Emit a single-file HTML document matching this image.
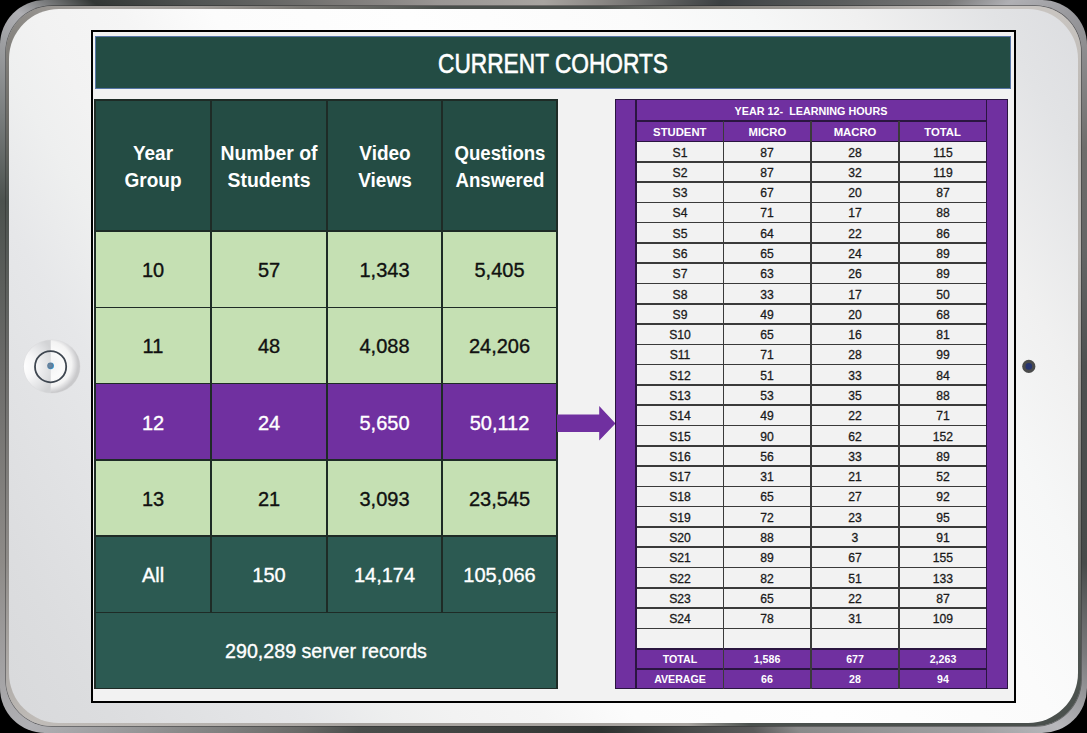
<!DOCTYPE html>
<html><head><meta charset="utf-8"><style>
html,body{margin:0;padding:0;}
body{width:1087px;height:733px;overflow:hidden;background:#000;position:relative;font-family:"Liberation Sans", sans-serif;}
.c{position:absolute;}
.t{position:absolute;text-align:center;white-space:nowrap;transform-origin:50% 50%;}
#slide{position:absolute;left:91px;top:30px;width:921px;height:669px;border:2px solid #000;background:#f2f2f2;}
#title{position:absolute;left:95px;top:35.6px;width:914px;height:51.9px;border:1px solid #5575a5;background:#234c44;}
</style></head><body>

<div id="rim" style="position:absolute;left:0;top:0;width:1087px;height:733px;border-radius:45px;background:conic-gradient(from 0deg at 543.5px 366.5px,#a8a4a0 0deg,#8a8784 9deg,#3c4042 26deg,#5a5c5c 39deg,#787878 48deg,#b0b0b4 52deg,#9a9a9e 56deg,#6e6d6b 68deg,#646565 78deg,#4e5050 90deg,#484b4a 110deg,#7a7a7c 118deg,#b8b8bc 125deg,#a0a0a2 130deg,#8a8a8a 145deg,#5a5a5a 150deg,#2e3230 171deg,#3a3d3b 184deg,#4a4d4b 207deg,#6a6a68 214deg,#8a8a8a 225deg,#b0b0b4 235deg,#8e8b88 250deg,#6b6b69 270deg,#4c524e 287deg,#7a7e7e 295deg,#b0b0b4 304deg,#333735 309deg,#505352 316deg,#7a7876 330deg,#9a9694 344deg,#a8a4a0 360deg);"></div>
<div id="rim2" style="position:absolute;left:6px;top:6px;width:1075px;height:720px;border-radius:46px;background:conic-gradient(from 0deg at 537.5px 360px,#4a4f4c 0deg,#4a4f4c 9deg,#8a8680 26deg,#a09c98 39deg,#c8c4c0 50deg,#c8c4c0 56deg,#b8b4b0 68deg,#b8b4b0 78deg,#a09c98 90deg,#6a6b67 110deg,#4e5450 118deg,#4a504d 125deg,#4a504d 150deg,#a8a4a0 158deg,#a8a4a0 207deg,#c0bcb8 235deg,#8e8b88 250deg,#6b6b69 270deg,#4c524e 287deg,#6e6d68 295deg,#8f8c88 304deg,#aaa6a2 309deg,#a09c98 316deg,#7a7874 326deg,#4a4f4c 344deg,#4a4f4c 360deg);box-shadow:0 0 0 0.7px rgba(40,40,40,.6);"></div>
<div id="bezel" style="position:absolute;left:9px;top:9px;width:1069px;height:714px;border-radius:50px;background:linear-gradient(59deg,#d8d9db 0%,#dcdddf 7%,#e6e7e9 20%,#eeefef 26%,#f2f2f2 30%,#f5f5f5 36%,#fcfcfc 42%,#fefefe 55%,#fbfbfb 70%,#f6f7f7 78%,#f0f0f0 85%,#e2e3e5 94%,#dcdde0 100%);"></div>
<svg class="c" style="left:0;top:0" width="1087" height="733">
 <defs>
  <radialGradient id="hbL" gradientUnits="userSpaceOnUse" cx="22" cy="366.5" r="34"><stop offset="0" stop-color="#ffffff"/><stop offset="0.4" stop-color="#f6f6f7"/><stop offset="0.8" stop-color="#dfe0e2"/><stop offset="1" stop-color="#d2d3d5"/></radialGradient>
  <radialGradient id="hbR" gradientUnits="userSpaceOnUse" cx="49" cy="364" r="29"><stop offset="0" stop-color="#f1f1f2"/><stop offset="0.5" stop-color="#fbfbfb"/><stop offset="0.78" stop-color="#f3f3f3"/><stop offset="0.9" stop-color="#dcdcde"/><stop offset="1" stop-color="#c9c9cb"/></radialGradient>
  <clipPath id="cL"><rect x="0" y="300" width="50.8" height="140"/></clipPath>
  <clipPath id="cR"><rect x="50.8" y="300" width="60" height="140"/></clipPath>
  <radialGradient id="dot" cx="0.4" cy="0.45" r="0.6"><stop offset="0" stop-color="#7088a0"/><stop offset="0.7" stop-color="#5a7c9c"/><stop offset="1" stop-color="#2aa0e0"/></radialGradient>
 </defs>
 <ellipse cx="51.9" cy="366.5" rx="28.6" ry="27.1" fill="#d8d9db" opacity="0.6"/>
 <ellipse cx="51.9" cy="366.5" rx="28.1" ry="26.6" fill="url(#hbL)" clip-path="url(#cL)"/>
 <ellipse cx="51.9" cy="366.5" rx="28.1" ry="26.6" fill="url(#hbR)" clip-path="url(#cR)"/>
 <circle cx="50.6" cy="366.7" r="15.6" fill="none" stroke="#3e4650" stroke-width="1.8"/>
 <circle cx="50.6" cy="365.8" r="3.4" fill="url(#dot)"/>
 <circle cx="1028.8" cy="366.4" r="6.6" fill="#4a4b4b"/>
 <circle cx="1028.8" cy="366.4" r="3.3" fill="#263470"/>
</svg>

<div id="slide"></div>
<div id="title"></div>
<div class="t" style="left:353.00px;top:48.16px;width:400px;font-size:27.5px;line-height:31.62px;font-weight:normal;color:#fff;transform:scaleX(0.825);-webkit-text-stroke:0.6px #fff;">CURRENT COHORTS</div>
<div class="c" style="left:95px;top:100.0px;width:462.00px;height:131.00px;background:#244c44;"></div>
<div class="c" style="left:95px;top:231px;width:462.00px;height:76.60px;background:#c5e0b3;"></div>
<div class="c" style="left:95px;top:307.6px;width:462.00px;height:76.10px;background:#c5e0b3;"></div>
<div class="c" style="left:95px;top:383.7px;width:462.00px;height:76.10px;background:#7030a0;"></div>
<div class="c" style="left:95px;top:459.8px;width:462.00px;height:76.20px;background:#c5e0b3;"></div>
<div class="c" style="left:95px;top:536px;width:462.00px;height:76.50px;background:#2c5a52;"></div>
<div class="c" style="left:95px;top:612.5px;width:462.00px;height:76.00px;background:#2c5a52;"></div>
<div class="c" style="left:94.2px;top:99.20px;width:463.6px;height:1.6px;background:#1e2b26"></div>
<div class="c" style="left:94.2px;top:230.20px;width:463.6px;height:1.6px;background:#1e2b26"></div>
<div class="c" style="left:94.2px;top:306.80px;width:463.6px;height:1.6px;background:#1e2b26"></div>
<div class="c" style="left:94.2px;top:382.90px;width:463.6px;height:1.6px;background:#1e2b26"></div>
<div class="c" style="left:94.2px;top:459.00px;width:463.6px;height:1.6px;background:#1e2b26"></div>
<div class="c" style="left:94.2px;top:535.20px;width:463.6px;height:1.6px;background:#1e2b26"></div>
<div class="c" style="left:94.2px;top:611.70px;width:463.6px;height:1.6px;background:#1e2b26"></div>
<div class="c" style="left:94.2px;top:687.70px;width:463.6px;height:1.6px;background:#1e2b26"></div>
<div class="c" style="left:94.20px;top:99.2px;width:1.6px;height:590.1px;background:#1e2b26"></div>
<div class="c" style="left:210.20px;top:99.2px;width:1.6px;height:514.1px;background:#1e2b26"></div>
<div class="c" style="left:326.20px;top:99.2px;width:1.6px;height:514.1px;background:#1e2b26"></div>
<div class="c" style="left:441.20px;top:99.2px;width:1.6px;height:514.1px;background:#1e2b26"></div>
<div class="c" style="left:556.20px;top:99.2px;width:1.6px;height:590.1px;background:#1e2b26"></div>
<div class="t" style="left:-47.00px;top:141.57px;width:400px;font-size:20px;line-height:23.00px;font-weight:bold;color:#fff;transform:scaleX(0.95);">Year</div>
<div class="t" style="left:-47.00px;top:169.47px;width:400px;font-size:20px;line-height:23.00px;font-weight:bold;color:#fff;transform:scaleX(0.95);">Group</div>
<div class="t" style="left:69.00px;top:141.57px;width:400px;font-size:20px;line-height:23.00px;font-weight:bold;color:#fff;transform:scaleX(0.97);">Number of</div>
<div class="t" style="left:69.00px;top:169.47px;width:400px;font-size:20px;line-height:23.00px;font-weight:bold;color:#fff;transform:scaleX(0.97);">Students</div>
<div class="t" style="left:184.50px;top:141.57px;width:400px;font-size:20px;line-height:23.00px;font-weight:bold;color:#fff;transform:scaleX(0.95);">Video</div>
<div class="t" style="left:184.50px;top:169.47px;width:400px;font-size:20px;line-height:23.00px;font-weight:bold;color:#fff;transform:scaleX(0.95);">Views</div>
<div class="t" style="left:299.50px;top:141.57px;width:400px;font-size:20px;line-height:23.00px;font-weight:bold;color:#fff;transform:scaleX(0.93);">Questions</div>
<div class="t" style="left:299.50px;top:169.47px;width:400px;font-size:20px;line-height:23.00px;font-weight:bold;color:#fff;transform:scaleX(0.93);">Answered</div>
<div class="t" style="left:-47.00px;top:259.07px;width:400px;font-size:20px;line-height:23.00px;font-weight:normal;color:#111;transform:scaleX(1.0);-webkit-text-stroke:0.35px #111;">10</div>
<div class="t" style="left:69.00px;top:259.07px;width:400px;font-size:20px;line-height:23.00px;font-weight:normal;color:#111;transform:scaleX(1.0);-webkit-text-stroke:0.35px #111;">57</div>
<div class="t" style="left:184.50px;top:259.07px;width:400px;font-size:20px;line-height:23.00px;font-weight:normal;color:#111;transform:scaleX(1.0);-webkit-text-stroke:0.35px #111;">1,343</div>
<div class="t" style="left:299.50px;top:259.07px;width:400px;font-size:20px;line-height:23.00px;font-weight:normal;color:#111;transform:scaleX(1.0);-webkit-text-stroke:0.35px #111;">5,405</div>
<div class="t" style="left:-47.00px;top:335.42px;width:400px;font-size:20px;line-height:23.00px;font-weight:normal;color:#111;transform:scaleX(1.0);-webkit-text-stroke:0.35px #111;">11</div>
<div class="t" style="left:69.00px;top:335.42px;width:400px;font-size:20px;line-height:23.00px;font-weight:normal;color:#111;transform:scaleX(1.0);-webkit-text-stroke:0.35px #111;">48</div>
<div class="t" style="left:184.50px;top:335.42px;width:400px;font-size:20px;line-height:23.00px;font-weight:normal;color:#111;transform:scaleX(1.0);-webkit-text-stroke:0.35px #111;">4,088</div>
<div class="t" style="left:299.50px;top:335.42px;width:400px;font-size:20px;line-height:23.00px;font-weight:normal;color:#111;transform:scaleX(1.0);-webkit-text-stroke:0.35px #111;">24,206</div>
<div class="t" style="left:-47.00px;top:411.52px;width:400px;font-size:20px;line-height:23.00px;font-weight:normal;color:#fff;transform:scaleX(1.0);-webkit-text-stroke:0.35px #fff;">12</div>
<div class="t" style="left:69.00px;top:411.52px;width:400px;font-size:20px;line-height:23.00px;font-weight:normal;color:#fff;transform:scaleX(1.0);-webkit-text-stroke:0.35px #fff;">24</div>
<div class="t" style="left:184.50px;top:411.52px;width:400px;font-size:20px;line-height:23.00px;font-weight:normal;color:#fff;transform:scaleX(1.0);-webkit-text-stroke:0.35px #fff;">5,650</div>
<div class="t" style="left:299.50px;top:411.52px;width:400px;font-size:20px;line-height:23.00px;font-weight:normal;color:#fff;transform:scaleX(1.0);-webkit-text-stroke:0.35px #fff;">50,112</div>
<div class="t" style="left:-47.00px;top:487.67px;width:400px;font-size:20px;line-height:23.00px;font-weight:normal;color:#111;transform:scaleX(1.0);-webkit-text-stroke:0.35px #111;">13</div>
<div class="t" style="left:69.00px;top:487.67px;width:400px;font-size:20px;line-height:23.00px;font-weight:normal;color:#111;transform:scaleX(1.0);-webkit-text-stroke:0.35px #111;">21</div>
<div class="t" style="left:184.50px;top:487.67px;width:400px;font-size:20px;line-height:23.00px;font-weight:normal;color:#111;transform:scaleX(1.0);-webkit-text-stroke:0.35px #111;">3,093</div>
<div class="t" style="left:299.50px;top:487.67px;width:400px;font-size:20px;line-height:23.00px;font-weight:normal;color:#111;transform:scaleX(1.0);-webkit-text-stroke:0.35px #111;">23,545</div>
<div class="t" style="left:-47.00px;top:564.02px;width:400px;font-size:20px;line-height:23.00px;font-weight:normal;color:#fff;transform:scaleX(1.0);-webkit-text-stroke:0.35px #fff;">All</div>
<div class="t" style="left:69.00px;top:564.02px;width:400px;font-size:20px;line-height:23.00px;font-weight:normal;color:#fff;transform:scaleX(1.0);-webkit-text-stroke:0.35px #fff;">150</div>
<div class="t" style="left:184.50px;top:564.02px;width:400px;font-size:20px;line-height:23.00px;font-weight:normal;color:#fff;transform:scaleX(1.0);-webkit-text-stroke:0.35px #fff;">14,174</div>
<div class="t" style="left:299.50px;top:564.02px;width:400px;font-size:20px;line-height:23.00px;font-weight:normal;color:#fff;transform:scaleX(1.0);-webkit-text-stroke:0.35px #fff;">105,066</div>
<div class="t" style="left:126.00px;top:640.09px;width:400px;font-size:20.2px;line-height:23.23px;font-weight:normal;color:#fff;transform:scaleX(0.972);-webkit-text-stroke:0.35px #fff;">290,289 server records</div>
<svg class="c" style="left:0;top:0" width="1087" height="733"><polygon points="557,414.4 599.2,414.4 599.2,406 615.5,423.4 599.2,440.6 599.2,432 557,432" fill="#7030a0"/></svg>
<div class="c" style="left:615px;top:99.2px;width:393.00px;height:590.10px;background:#7030a0;box-shadow:0 0 0 1px #2a1540 inset;"></div>
<div class="c" style="left:636px;top:141.48000000000002px;width:350.40px;height:507.25px;background:#f2f2f2;"></div>
<div class="c" style="left:636px;top:120.39px;width:350.40px;height:1.6px;background:#2a1540"></div>
<div class="c" style="left:636px;top:140.68px;width:350.40px;height:1.6px;background:#2a1540"></div>
<div class="c" style="left:636px;top:160.97px;width:350.40px;height:1.6px;background:#3a3a3a"></div>
<div class="c" style="left:636px;top:181.26px;width:350.40px;height:1.6px;background:#3a3a3a"></div>
<div class="c" style="left:636px;top:201.55px;width:350.40px;height:1.6px;background:#3a3a3a"></div>
<div class="c" style="left:636px;top:221.84px;width:350.40px;height:1.6px;background:#3a3a3a"></div>
<div class="c" style="left:636px;top:242.13px;width:350.40px;height:1.6px;background:#3a3a3a"></div>
<div class="c" style="left:636px;top:262.42px;width:350.40px;height:1.6px;background:#3a3a3a"></div>
<div class="c" style="left:636px;top:282.71px;width:350.40px;height:1.6px;background:#3a3a3a"></div>
<div class="c" style="left:636px;top:303.00px;width:350.40px;height:1.6px;background:#3a3a3a"></div>
<div class="c" style="left:636px;top:323.29px;width:350.40px;height:1.6px;background:#3a3a3a"></div>
<div class="c" style="left:636px;top:343.58px;width:350.40px;height:1.6px;background:#3a3a3a"></div>
<div class="c" style="left:636px;top:363.87px;width:350.40px;height:1.6px;background:#3a3a3a"></div>
<div class="c" style="left:636px;top:384.16px;width:350.40px;height:1.6px;background:#3a3a3a"></div>
<div class="c" style="left:636px;top:404.45px;width:350.40px;height:1.6px;background:#3a3a3a"></div>
<div class="c" style="left:636px;top:424.74px;width:350.40px;height:1.6px;background:#3a3a3a"></div>
<div class="c" style="left:636px;top:445.03px;width:350.40px;height:1.6px;background:#3a3a3a"></div>
<div class="c" style="left:636px;top:465.32px;width:350.40px;height:1.6px;background:#3a3a3a"></div>
<div class="c" style="left:636px;top:485.61px;width:350.40px;height:1.6px;background:#3a3a3a"></div>
<div class="c" style="left:636px;top:505.90px;width:350.40px;height:1.6px;background:#3a3a3a"></div>
<div class="c" style="left:636px;top:526.19px;width:350.40px;height:1.6px;background:#3a3a3a"></div>
<div class="c" style="left:636px;top:546.48px;width:350.40px;height:1.6px;background:#3a3a3a"></div>
<div class="c" style="left:636px;top:566.77px;width:350.40px;height:1.6px;background:#3a3a3a"></div>
<div class="c" style="left:636px;top:587.06px;width:350.40px;height:1.6px;background:#3a3a3a"></div>
<div class="c" style="left:636px;top:607.35px;width:350.40px;height:1.6px;background:#3a3a3a"></div>
<div class="c" style="left:636px;top:627.64px;width:350.40px;height:1.6px;background:#3a3a3a"></div>
<div class="c" style="left:636px;top:647.93px;width:350.40px;height:1.6px;background:#2a1540"></div>
<div class="c" style="left:636px;top:668.22px;width:350.40px;height:1.6px;background:#2a1540"></div>
<div class="c" style="left:635.20px;top:99.20px;width:1.6px;height:590.10px;background:#2a1540"></div>
<div class="c" style="left:722.80px;top:121.19px;width:1.6px;height:568.11px;background:#3a3a3a"></div>
<div class="c" style="left:810.40px;top:121.19px;width:1.6px;height:568.11px;background:#3a3a3a"></div>
<div class="c" style="left:898.00px;top:121.19px;width:1.6px;height:568.11px;background:#3a3a3a"></div>
<div class="c" style="left:985.60px;top:99.20px;width:1.6px;height:590.10px;background:#2a1540"></div>
<div class="t" style="left:611.20px;top:104.11px;width:400px;font-size:11.6px;line-height:13.34px;font-weight:bold;color:#fff;transform:scaleX(0.93);">YEAR 12-&nbsp; LEARNING HOURS</div>
<div class="t" style="left:479.80px;top:125.62px;width:400px;font-size:11.3px;line-height:12.99px;font-weight:bold;color:#fff;transform:scaleX(1.0);">STUDENT</div>
<div class="t" style="left:567.40px;top:125.62px;width:400px;font-size:11.3px;line-height:12.99px;font-weight:bold;color:#fff;transform:scaleX(1.0);">MICRO</div>
<div class="t" style="left:655.00px;top:125.62px;width:400px;font-size:11.3px;line-height:12.99px;font-weight:bold;color:#fff;transform:scaleX(1.0);">MACRO</div>
<div class="t" style="left:742.60px;top:125.62px;width:400px;font-size:11.3px;line-height:12.99px;font-weight:bold;color:#fff;transform:scaleX(1.0);">TOTAL</div>
<div class="t" style="left:479.80px;top:145.51px;width:400px;font-size:12.6px;line-height:14.49px;font-weight:normal;color:#1a1a1a;transform:scaleX(0.965);-webkit-text-stroke:0.3px #1a1a1a;">S1</div>
<div class="t" style="left:567.40px;top:145.51px;width:400px;font-size:12.6px;line-height:14.49px;font-weight:normal;color:#1a1a1a;transform:scaleX(0.965);-webkit-text-stroke:0.3px #1a1a1a;">87</div>
<div class="t" style="left:655.00px;top:145.51px;width:400px;font-size:12.6px;line-height:14.49px;font-weight:normal;color:#1a1a1a;transform:scaleX(0.965);-webkit-text-stroke:0.3px #1a1a1a;">28</div>
<div class="t" style="left:742.60px;top:145.51px;width:400px;font-size:12.6px;line-height:14.49px;font-weight:normal;color:#1a1a1a;transform:scaleX(0.965);-webkit-text-stroke:0.3px #1a1a1a;">115</div>
<div class="t" style="left:479.80px;top:165.80px;width:400px;font-size:12.6px;line-height:14.49px;font-weight:normal;color:#1a1a1a;transform:scaleX(0.965);-webkit-text-stroke:0.3px #1a1a1a;">S2</div>
<div class="t" style="left:567.40px;top:165.80px;width:400px;font-size:12.6px;line-height:14.49px;font-weight:normal;color:#1a1a1a;transform:scaleX(0.965);-webkit-text-stroke:0.3px #1a1a1a;">87</div>
<div class="t" style="left:655.00px;top:165.80px;width:400px;font-size:12.6px;line-height:14.49px;font-weight:normal;color:#1a1a1a;transform:scaleX(0.965);-webkit-text-stroke:0.3px #1a1a1a;">32</div>
<div class="t" style="left:742.60px;top:165.80px;width:400px;font-size:12.6px;line-height:14.49px;font-weight:normal;color:#1a1a1a;transform:scaleX(0.965);-webkit-text-stroke:0.3px #1a1a1a;">119</div>
<div class="t" style="left:479.80px;top:186.09px;width:400px;font-size:12.6px;line-height:14.49px;font-weight:normal;color:#1a1a1a;transform:scaleX(0.965);-webkit-text-stroke:0.3px #1a1a1a;">S3</div>
<div class="t" style="left:567.40px;top:186.09px;width:400px;font-size:12.6px;line-height:14.49px;font-weight:normal;color:#1a1a1a;transform:scaleX(0.965);-webkit-text-stroke:0.3px #1a1a1a;">67</div>
<div class="t" style="left:655.00px;top:186.09px;width:400px;font-size:12.6px;line-height:14.49px;font-weight:normal;color:#1a1a1a;transform:scaleX(0.965);-webkit-text-stroke:0.3px #1a1a1a;">20</div>
<div class="t" style="left:742.60px;top:186.09px;width:400px;font-size:12.6px;line-height:14.49px;font-weight:normal;color:#1a1a1a;transform:scaleX(0.965);-webkit-text-stroke:0.3px #1a1a1a;">87</div>
<div class="t" style="left:479.80px;top:206.38px;width:400px;font-size:12.6px;line-height:14.49px;font-weight:normal;color:#1a1a1a;transform:scaleX(0.965);-webkit-text-stroke:0.3px #1a1a1a;">S4</div>
<div class="t" style="left:567.40px;top:206.38px;width:400px;font-size:12.6px;line-height:14.49px;font-weight:normal;color:#1a1a1a;transform:scaleX(0.965);-webkit-text-stroke:0.3px #1a1a1a;">71</div>
<div class="t" style="left:655.00px;top:206.38px;width:400px;font-size:12.6px;line-height:14.49px;font-weight:normal;color:#1a1a1a;transform:scaleX(0.965);-webkit-text-stroke:0.3px #1a1a1a;">17</div>
<div class="t" style="left:742.60px;top:206.38px;width:400px;font-size:12.6px;line-height:14.49px;font-weight:normal;color:#1a1a1a;transform:scaleX(0.965);-webkit-text-stroke:0.3px #1a1a1a;">88</div>
<div class="t" style="left:479.80px;top:226.67px;width:400px;font-size:12.6px;line-height:14.49px;font-weight:normal;color:#1a1a1a;transform:scaleX(0.965);-webkit-text-stroke:0.3px #1a1a1a;">S5</div>
<div class="t" style="left:567.40px;top:226.67px;width:400px;font-size:12.6px;line-height:14.49px;font-weight:normal;color:#1a1a1a;transform:scaleX(0.965);-webkit-text-stroke:0.3px #1a1a1a;">64</div>
<div class="t" style="left:655.00px;top:226.67px;width:400px;font-size:12.6px;line-height:14.49px;font-weight:normal;color:#1a1a1a;transform:scaleX(0.965);-webkit-text-stroke:0.3px #1a1a1a;">22</div>
<div class="t" style="left:742.60px;top:226.67px;width:400px;font-size:12.6px;line-height:14.49px;font-weight:normal;color:#1a1a1a;transform:scaleX(0.965);-webkit-text-stroke:0.3px #1a1a1a;">86</div>
<div class="t" style="left:479.80px;top:246.96px;width:400px;font-size:12.6px;line-height:14.49px;font-weight:normal;color:#1a1a1a;transform:scaleX(0.965);-webkit-text-stroke:0.3px #1a1a1a;">S6</div>
<div class="t" style="left:567.40px;top:246.96px;width:400px;font-size:12.6px;line-height:14.49px;font-weight:normal;color:#1a1a1a;transform:scaleX(0.965);-webkit-text-stroke:0.3px #1a1a1a;">65</div>
<div class="t" style="left:655.00px;top:246.96px;width:400px;font-size:12.6px;line-height:14.49px;font-weight:normal;color:#1a1a1a;transform:scaleX(0.965);-webkit-text-stroke:0.3px #1a1a1a;">24</div>
<div class="t" style="left:742.60px;top:246.96px;width:400px;font-size:12.6px;line-height:14.49px;font-weight:normal;color:#1a1a1a;transform:scaleX(0.965);-webkit-text-stroke:0.3px #1a1a1a;">89</div>
<div class="t" style="left:479.80px;top:267.25px;width:400px;font-size:12.6px;line-height:14.49px;font-weight:normal;color:#1a1a1a;transform:scaleX(0.965);-webkit-text-stroke:0.3px #1a1a1a;">S7</div>
<div class="t" style="left:567.40px;top:267.25px;width:400px;font-size:12.6px;line-height:14.49px;font-weight:normal;color:#1a1a1a;transform:scaleX(0.965);-webkit-text-stroke:0.3px #1a1a1a;">63</div>
<div class="t" style="left:655.00px;top:267.25px;width:400px;font-size:12.6px;line-height:14.49px;font-weight:normal;color:#1a1a1a;transform:scaleX(0.965);-webkit-text-stroke:0.3px #1a1a1a;">26</div>
<div class="t" style="left:742.60px;top:267.25px;width:400px;font-size:12.6px;line-height:14.49px;font-weight:normal;color:#1a1a1a;transform:scaleX(0.965);-webkit-text-stroke:0.3px #1a1a1a;">89</div>
<div class="t" style="left:479.80px;top:287.54px;width:400px;font-size:12.6px;line-height:14.49px;font-weight:normal;color:#1a1a1a;transform:scaleX(0.965);-webkit-text-stroke:0.3px #1a1a1a;">S8</div>
<div class="t" style="left:567.40px;top:287.54px;width:400px;font-size:12.6px;line-height:14.49px;font-weight:normal;color:#1a1a1a;transform:scaleX(0.965);-webkit-text-stroke:0.3px #1a1a1a;">33</div>
<div class="t" style="left:655.00px;top:287.54px;width:400px;font-size:12.6px;line-height:14.49px;font-weight:normal;color:#1a1a1a;transform:scaleX(0.965);-webkit-text-stroke:0.3px #1a1a1a;">17</div>
<div class="t" style="left:742.60px;top:287.54px;width:400px;font-size:12.6px;line-height:14.49px;font-weight:normal;color:#1a1a1a;transform:scaleX(0.965);-webkit-text-stroke:0.3px #1a1a1a;">50</div>
<div class="t" style="left:479.80px;top:307.83px;width:400px;font-size:12.6px;line-height:14.49px;font-weight:normal;color:#1a1a1a;transform:scaleX(0.965);-webkit-text-stroke:0.3px #1a1a1a;">S9</div>
<div class="t" style="left:567.40px;top:307.83px;width:400px;font-size:12.6px;line-height:14.49px;font-weight:normal;color:#1a1a1a;transform:scaleX(0.965);-webkit-text-stroke:0.3px #1a1a1a;">49</div>
<div class="t" style="left:655.00px;top:307.83px;width:400px;font-size:12.6px;line-height:14.49px;font-weight:normal;color:#1a1a1a;transform:scaleX(0.965);-webkit-text-stroke:0.3px #1a1a1a;">20</div>
<div class="t" style="left:742.60px;top:307.83px;width:400px;font-size:12.6px;line-height:14.49px;font-weight:normal;color:#1a1a1a;transform:scaleX(0.965);-webkit-text-stroke:0.3px #1a1a1a;">68</div>
<div class="t" style="left:479.80px;top:328.12px;width:400px;font-size:12.6px;line-height:14.49px;font-weight:normal;color:#1a1a1a;transform:scaleX(0.965);-webkit-text-stroke:0.3px #1a1a1a;">S10</div>
<div class="t" style="left:567.40px;top:328.12px;width:400px;font-size:12.6px;line-height:14.49px;font-weight:normal;color:#1a1a1a;transform:scaleX(0.965);-webkit-text-stroke:0.3px #1a1a1a;">65</div>
<div class="t" style="left:655.00px;top:328.12px;width:400px;font-size:12.6px;line-height:14.49px;font-weight:normal;color:#1a1a1a;transform:scaleX(0.965);-webkit-text-stroke:0.3px #1a1a1a;">16</div>
<div class="t" style="left:742.60px;top:328.12px;width:400px;font-size:12.6px;line-height:14.49px;font-weight:normal;color:#1a1a1a;transform:scaleX(0.965);-webkit-text-stroke:0.3px #1a1a1a;">81</div>
<div class="t" style="left:479.80px;top:348.41px;width:400px;font-size:12.6px;line-height:14.49px;font-weight:normal;color:#1a1a1a;transform:scaleX(0.965);-webkit-text-stroke:0.3px #1a1a1a;">S11</div>
<div class="t" style="left:567.40px;top:348.41px;width:400px;font-size:12.6px;line-height:14.49px;font-weight:normal;color:#1a1a1a;transform:scaleX(0.965);-webkit-text-stroke:0.3px #1a1a1a;">71</div>
<div class="t" style="left:655.00px;top:348.41px;width:400px;font-size:12.6px;line-height:14.49px;font-weight:normal;color:#1a1a1a;transform:scaleX(0.965);-webkit-text-stroke:0.3px #1a1a1a;">28</div>
<div class="t" style="left:742.60px;top:348.41px;width:400px;font-size:12.6px;line-height:14.49px;font-weight:normal;color:#1a1a1a;transform:scaleX(0.965);-webkit-text-stroke:0.3px #1a1a1a;">99</div>
<div class="t" style="left:479.80px;top:368.70px;width:400px;font-size:12.6px;line-height:14.49px;font-weight:normal;color:#1a1a1a;transform:scaleX(0.965);-webkit-text-stroke:0.3px #1a1a1a;">S12</div>
<div class="t" style="left:567.40px;top:368.70px;width:400px;font-size:12.6px;line-height:14.49px;font-weight:normal;color:#1a1a1a;transform:scaleX(0.965);-webkit-text-stroke:0.3px #1a1a1a;">51</div>
<div class="t" style="left:655.00px;top:368.70px;width:400px;font-size:12.6px;line-height:14.49px;font-weight:normal;color:#1a1a1a;transform:scaleX(0.965);-webkit-text-stroke:0.3px #1a1a1a;">33</div>
<div class="t" style="left:742.60px;top:368.70px;width:400px;font-size:12.6px;line-height:14.49px;font-weight:normal;color:#1a1a1a;transform:scaleX(0.965);-webkit-text-stroke:0.3px #1a1a1a;">84</div>
<div class="t" style="left:479.80px;top:388.99px;width:400px;font-size:12.6px;line-height:14.49px;font-weight:normal;color:#1a1a1a;transform:scaleX(0.965);-webkit-text-stroke:0.3px #1a1a1a;">S13</div>
<div class="t" style="left:567.40px;top:388.99px;width:400px;font-size:12.6px;line-height:14.49px;font-weight:normal;color:#1a1a1a;transform:scaleX(0.965);-webkit-text-stroke:0.3px #1a1a1a;">53</div>
<div class="t" style="left:655.00px;top:388.99px;width:400px;font-size:12.6px;line-height:14.49px;font-weight:normal;color:#1a1a1a;transform:scaleX(0.965);-webkit-text-stroke:0.3px #1a1a1a;">35</div>
<div class="t" style="left:742.60px;top:388.99px;width:400px;font-size:12.6px;line-height:14.49px;font-weight:normal;color:#1a1a1a;transform:scaleX(0.965);-webkit-text-stroke:0.3px #1a1a1a;">88</div>
<div class="t" style="left:479.80px;top:409.28px;width:400px;font-size:12.6px;line-height:14.49px;font-weight:normal;color:#1a1a1a;transform:scaleX(0.965);-webkit-text-stroke:0.3px #1a1a1a;">S14</div>
<div class="t" style="left:567.40px;top:409.28px;width:400px;font-size:12.6px;line-height:14.49px;font-weight:normal;color:#1a1a1a;transform:scaleX(0.965);-webkit-text-stroke:0.3px #1a1a1a;">49</div>
<div class="t" style="left:655.00px;top:409.28px;width:400px;font-size:12.6px;line-height:14.49px;font-weight:normal;color:#1a1a1a;transform:scaleX(0.965);-webkit-text-stroke:0.3px #1a1a1a;">22</div>
<div class="t" style="left:742.60px;top:409.28px;width:400px;font-size:12.6px;line-height:14.49px;font-weight:normal;color:#1a1a1a;transform:scaleX(0.965);-webkit-text-stroke:0.3px #1a1a1a;">71</div>
<div class="t" style="left:479.80px;top:429.57px;width:400px;font-size:12.6px;line-height:14.49px;font-weight:normal;color:#1a1a1a;transform:scaleX(0.965);-webkit-text-stroke:0.3px #1a1a1a;">S15</div>
<div class="t" style="left:567.40px;top:429.57px;width:400px;font-size:12.6px;line-height:14.49px;font-weight:normal;color:#1a1a1a;transform:scaleX(0.965);-webkit-text-stroke:0.3px #1a1a1a;">90</div>
<div class="t" style="left:655.00px;top:429.57px;width:400px;font-size:12.6px;line-height:14.49px;font-weight:normal;color:#1a1a1a;transform:scaleX(0.965);-webkit-text-stroke:0.3px #1a1a1a;">62</div>
<div class="t" style="left:742.60px;top:429.57px;width:400px;font-size:12.6px;line-height:14.49px;font-weight:normal;color:#1a1a1a;transform:scaleX(0.965);-webkit-text-stroke:0.3px #1a1a1a;">152</div>
<div class="t" style="left:479.80px;top:449.86px;width:400px;font-size:12.6px;line-height:14.49px;font-weight:normal;color:#1a1a1a;transform:scaleX(0.965);-webkit-text-stroke:0.3px #1a1a1a;">S16</div>
<div class="t" style="left:567.40px;top:449.86px;width:400px;font-size:12.6px;line-height:14.49px;font-weight:normal;color:#1a1a1a;transform:scaleX(0.965);-webkit-text-stroke:0.3px #1a1a1a;">56</div>
<div class="t" style="left:655.00px;top:449.86px;width:400px;font-size:12.6px;line-height:14.49px;font-weight:normal;color:#1a1a1a;transform:scaleX(0.965);-webkit-text-stroke:0.3px #1a1a1a;">33</div>
<div class="t" style="left:742.60px;top:449.86px;width:400px;font-size:12.6px;line-height:14.49px;font-weight:normal;color:#1a1a1a;transform:scaleX(0.965);-webkit-text-stroke:0.3px #1a1a1a;">89</div>
<div class="t" style="left:479.80px;top:470.15px;width:400px;font-size:12.6px;line-height:14.49px;font-weight:normal;color:#1a1a1a;transform:scaleX(0.965);-webkit-text-stroke:0.3px #1a1a1a;">S17</div>
<div class="t" style="left:567.40px;top:470.15px;width:400px;font-size:12.6px;line-height:14.49px;font-weight:normal;color:#1a1a1a;transform:scaleX(0.965);-webkit-text-stroke:0.3px #1a1a1a;">31</div>
<div class="t" style="left:655.00px;top:470.15px;width:400px;font-size:12.6px;line-height:14.49px;font-weight:normal;color:#1a1a1a;transform:scaleX(0.965);-webkit-text-stroke:0.3px #1a1a1a;">21</div>
<div class="t" style="left:742.60px;top:470.15px;width:400px;font-size:12.6px;line-height:14.49px;font-weight:normal;color:#1a1a1a;transform:scaleX(0.965);-webkit-text-stroke:0.3px #1a1a1a;">52</div>
<div class="t" style="left:479.80px;top:490.44px;width:400px;font-size:12.6px;line-height:14.49px;font-weight:normal;color:#1a1a1a;transform:scaleX(0.965);-webkit-text-stroke:0.3px #1a1a1a;">S18</div>
<div class="t" style="left:567.40px;top:490.44px;width:400px;font-size:12.6px;line-height:14.49px;font-weight:normal;color:#1a1a1a;transform:scaleX(0.965);-webkit-text-stroke:0.3px #1a1a1a;">65</div>
<div class="t" style="left:655.00px;top:490.44px;width:400px;font-size:12.6px;line-height:14.49px;font-weight:normal;color:#1a1a1a;transform:scaleX(0.965);-webkit-text-stroke:0.3px #1a1a1a;">27</div>
<div class="t" style="left:742.60px;top:490.44px;width:400px;font-size:12.6px;line-height:14.49px;font-weight:normal;color:#1a1a1a;transform:scaleX(0.965);-webkit-text-stroke:0.3px #1a1a1a;">92</div>
<div class="t" style="left:479.80px;top:510.73px;width:400px;font-size:12.6px;line-height:14.49px;font-weight:normal;color:#1a1a1a;transform:scaleX(0.965);-webkit-text-stroke:0.3px #1a1a1a;">S19</div>
<div class="t" style="left:567.40px;top:510.73px;width:400px;font-size:12.6px;line-height:14.49px;font-weight:normal;color:#1a1a1a;transform:scaleX(0.965);-webkit-text-stroke:0.3px #1a1a1a;">72</div>
<div class="t" style="left:655.00px;top:510.73px;width:400px;font-size:12.6px;line-height:14.49px;font-weight:normal;color:#1a1a1a;transform:scaleX(0.965);-webkit-text-stroke:0.3px #1a1a1a;">23</div>
<div class="t" style="left:742.60px;top:510.73px;width:400px;font-size:12.6px;line-height:14.49px;font-weight:normal;color:#1a1a1a;transform:scaleX(0.965);-webkit-text-stroke:0.3px #1a1a1a;">95</div>
<div class="t" style="left:479.80px;top:531.02px;width:400px;font-size:12.6px;line-height:14.49px;font-weight:normal;color:#1a1a1a;transform:scaleX(0.965);-webkit-text-stroke:0.3px #1a1a1a;">S20</div>
<div class="t" style="left:567.40px;top:531.02px;width:400px;font-size:12.6px;line-height:14.49px;font-weight:normal;color:#1a1a1a;transform:scaleX(0.965);-webkit-text-stroke:0.3px #1a1a1a;">88</div>
<div class="t" style="left:655.00px;top:531.02px;width:400px;font-size:12.6px;line-height:14.49px;font-weight:normal;color:#1a1a1a;transform:scaleX(0.965);-webkit-text-stroke:0.3px #1a1a1a;">3</div>
<div class="t" style="left:742.60px;top:531.02px;width:400px;font-size:12.6px;line-height:14.49px;font-weight:normal;color:#1a1a1a;transform:scaleX(0.965);-webkit-text-stroke:0.3px #1a1a1a;">91</div>
<div class="t" style="left:479.80px;top:551.31px;width:400px;font-size:12.6px;line-height:14.49px;font-weight:normal;color:#1a1a1a;transform:scaleX(0.965);-webkit-text-stroke:0.3px #1a1a1a;">S21</div>
<div class="t" style="left:567.40px;top:551.31px;width:400px;font-size:12.6px;line-height:14.49px;font-weight:normal;color:#1a1a1a;transform:scaleX(0.965);-webkit-text-stroke:0.3px #1a1a1a;">89</div>
<div class="t" style="left:655.00px;top:551.31px;width:400px;font-size:12.6px;line-height:14.49px;font-weight:normal;color:#1a1a1a;transform:scaleX(0.965);-webkit-text-stroke:0.3px #1a1a1a;">67</div>
<div class="t" style="left:742.60px;top:551.31px;width:400px;font-size:12.6px;line-height:14.49px;font-weight:normal;color:#1a1a1a;transform:scaleX(0.965);-webkit-text-stroke:0.3px #1a1a1a;">155</div>
<div class="t" style="left:479.80px;top:571.60px;width:400px;font-size:12.6px;line-height:14.49px;font-weight:normal;color:#1a1a1a;transform:scaleX(0.965);-webkit-text-stroke:0.3px #1a1a1a;">S22</div>
<div class="t" style="left:567.40px;top:571.60px;width:400px;font-size:12.6px;line-height:14.49px;font-weight:normal;color:#1a1a1a;transform:scaleX(0.965);-webkit-text-stroke:0.3px #1a1a1a;">82</div>
<div class="t" style="left:655.00px;top:571.60px;width:400px;font-size:12.6px;line-height:14.49px;font-weight:normal;color:#1a1a1a;transform:scaleX(0.965);-webkit-text-stroke:0.3px #1a1a1a;">51</div>
<div class="t" style="left:742.60px;top:571.60px;width:400px;font-size:12.6px;line-height:14.49px;font-weight:normal;color:#1a1a1a;transform:scaleX(0.965);-webkit-text-stroke:0.3px #1a1a1a;">133</div>
<div class="t" style="left:479.80px;top:591.89px;width:400px;font-size:12.6px;line-height:14.49px;font-weight:normal;color:#1a1a1a;transform:scaleX(0.965);-webkit-text-stroke:0.3px #1a1a1a;">S23</div>
<div class="t" style="left:567.40px;top:591.89px;width:400px;font-size:12.6px;line-height:14.49px;font-weight:normal;color:#1a1a1a;transform:scaleX(0.965);-webkit-text-stroke:0.3px #1a1a1a;">65</div>
<div class="t" style="left:655.00px;top:591.89px;width:400px;font-size:12.6px;line-height:14.49px;font-weight:normal;color:#1a1a1a;transform:scaleX(0.965);-webkit-text-stroke:0.3px #1a1a1a;">22</div>
<div class="t" style="left:742.60px;top:591.89px;width:400px;font-size:12.6px;line-height:14.49px;font-weight:normal;color:#1a1a1a;transform:scaleX(0.965);-webkit-text-stroke:0.3px #1a1a1a;">87</div>
<div class="t" style="left:479.80px;top:612.18px;width:400px;font-size:12.6px;line-height:14.49px;font-weight:normal;color:#1a1a1a;transform:scaleX(0.965);-webkit-text-stroke:0.3px #1a1a1a;">S24</div>
<div class="t" style="left:567.40px;top:612.18px;width:400px;font-size:12.6px;line-height:14.49px;font-weight:normal;color:#1a1a1a;transform:scaleX(0.965);-webkit-text-stroke:0.3px #1a1a1a;">78</div>
<div class="t" style="left:655.00px;top:612.18px;width:400px;font-size:12.6px;line-height:14.49px;font-weight:normal;color:#1a1a1a;transform:scaleX(0.965);-webkit-text-stroke:0.3px #1a1a1a;">31</div>
<div class="t" style="left:742.60px;top:612.18px;width:400px;font-size:12.6px;line-height:14.49px;font-weight:normal;color:#1a1a1a;transform:scaleX(0.965);-webkit-text-stroke:0.3px #1a1a1a;">109</div>
<div class="t" style="left:479.80px;top:653.16px;width:400px;font-size:11.3px;line-height:12.99px;font-weight:bold;color:#fff;transform:scaleX(0.94);">TOTAL</div>
<div class="t" style="left:567.40px;top:653.16px;width:400px;font-size:11.3px;line-height:12.99px;font-weight:bold;color:#fff;transform:scaleX(0.94);">1,586</div>
<div class="t" style="left:655.00px;top:653.16px;width:400px;font-size:11.3px;line-height:12.99px;font-weight:bold;color:#fff;transform:scaleX(0.94);">677</div>
<div class="t" style="left:742.60px;top:653.16px;width:400px;font-size:11.3px;line-height:12.99px;font-weight:bold;color:#fff;transform:scaleX(0.94);">2,263</div>
<div class="t" style="left:479.80px;top:673.45px;width:400px;font-size:11.3px;line-height:12.99px;font-weight:bold;color:#fff;transform:scaleX(0.94);">AVERAGE</div>
<div class="t" style="left:567.40px;top:673.45px;width:400px;font-size:11.3px;line-height:12.99px;font-weight:bold;color:#fff;transform:scaleX(0.94);">66</div>
<div class="t" style="left:655.00px;top:673.45px;width:400px;font-size:11.3px;line-height:12.99px;font-weight:bold;color:#fff;transform:scaleX(0.94);">28</div>
<div class="t" style="left:742.60px;top:673.45px;width:400px;font-size:11.3px;line-height:12.99px;font-weight:bold;color:#fff;transform:scaleX(0.94);">94</div>
</body></html>
